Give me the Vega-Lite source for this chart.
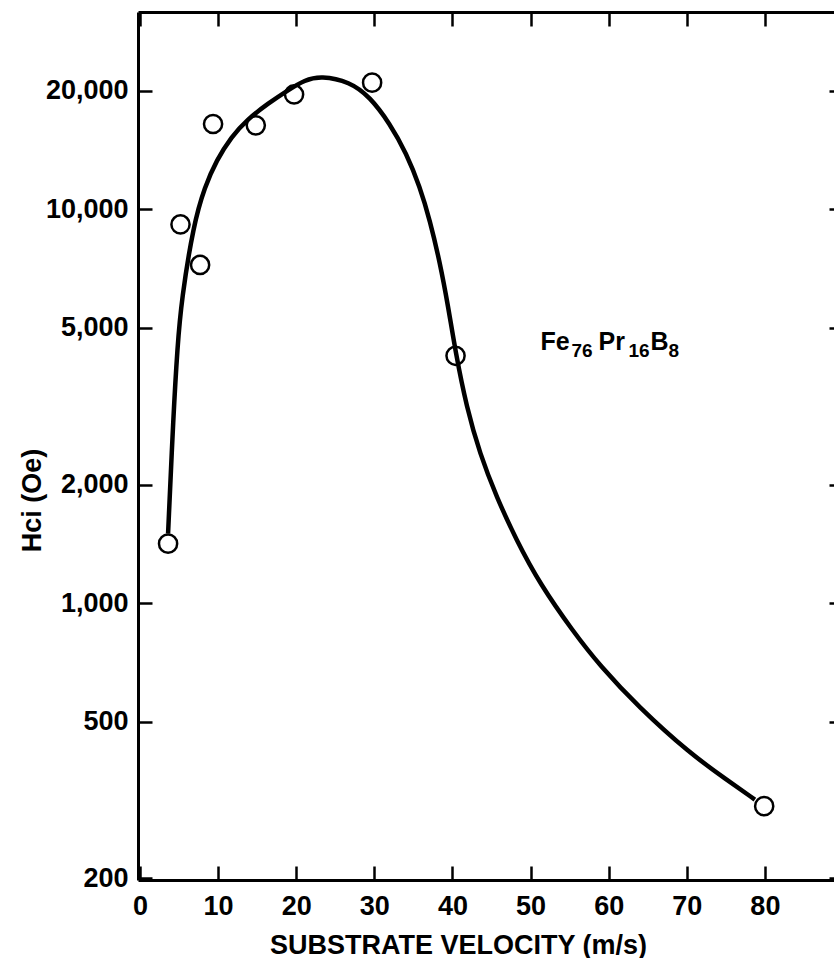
{
  "$schema": "https://vega.github.io/schema/vega-lite/v6.json",
  "width": 705,
  "height": 868,
  "autosize": {"type": "none"},
  "padding": {"left": 138, "top": 12, "right": 0, "bottom": 78},
  "background": "white",
  "config": {
    "view": {"stroke": null},
    "font": "Liberation Sans",
    "axis": {
      "grid": false,
      "domainColor": "black",
      "domainWidth": 3,
      "tickColor": "black",
      "tickWidth": 2.5,
      "tickSize": -14,
      "labelFont": "Liberation Sans",
      "labelFontSize": 27,
      "labelFontWeight": "bold",
      "labelColor": "black",
      "titleFont": "Liberation Sans",
      "titleFontSize": 26,
      "titleFontWeight": "bold",
      "titleColor": "black"
    }
  },
  "datasets": {
    "curve": [
      {"v": 3.60, "h": 1501}, {"v": 4.29, "h": 3030}, {"v": 4.80, "h": 4474},
      {"v": 5.31, "h": 5882}, {"v": 6.86, "h": 9160}, {"v": 8.30, "h": 11415},
      {"v": 9.81, "h": 13345}, {"v": 11.72, "h": 15295}, {"v": 13.64, "h": 16865},
      {"v": 16.41, "h": 18593}, {"v": 18.98, "h": 20108}, {"v": 21.10, "h": 21316},
      {"v": 23.15, "h": 21857}, {"v": 26.86, "h": 21105}, {"v": 29.42, "h": 19328},
      {"v": 31.98, "h": 16543}, {"v": 34.12, "h": 13875}, {"v": 35.83, "h": 11415},
      {"v": 37.11, "h": 9393}, {"v": 38.39, "h": 7346}, {"v": 39.45, "h": 5679},
      {"v": 40.40, "h": 4338}, {"v": 41.81, "h": 3145}, {"v": 43.51, "h": 2398},
      {"v": 45.65, "h": 1859}, {"v": 48.21, "h": 1443}, {"v": 51.19, "h": 1120},
      {"v": 55.45, "h": 847}, {"v": 58.87, "h": 694}, {"v": 63.78, "h": 546},
      {"v": 70.40, "h": 415}, {"v": 75.10, "h": 356}, {"v": 78.72, "h": 317}
    ],
    "points": [
      {"v": 3.60, "h": 1416}, {"v": 5.19, "h": 9160}, {"v": 7.70, "h": 7228},
      {"v": 9.36, "h": 16480}, {"v": 14.83, "h": 16350}, {"v": 19.73, "h": 19590},
      {"v": 29.72, "h": 20990}, {"v": 40.40, "h": 4248}, {"v": 79.91, "h": 305}
    ],
    "label": [
      {"v": 51.28, "h": 4390, "p1": "Fe", "s1": "76", "p2": "Pr", "s2": "16", "p3": "B", "s3": "8"}
    ]
  },
  "resolve": {"axis": {"x": "independent", "y": "independent"}},
  "layer": [
    {
      "data": {"name": "curve"},
      "mark": {"type": "line", "color": "black", "strokeWidth": 4.5, "interpolate": "basis"},
      "encoding": {
        "x": {
          "field": "v", "type": "quantitative",
          "scale": {"domain": [-0.25, 90], "nice": false, "zero": false},
          "axis": {
            "orient": "bottom",
            "values": [0, 10, 20, 30, 40, 50, 60, 70, 80],
            "labelBaseline": "alphabetic",
            "labelPadding": 48,
            "title": "SUBSTRATE VELOCITY (m/s)",
            "titleX": 320,
            "titleY": 73,
            "titleAlign": "center",
            "titleBaseline": "alphabetic",
            "titleFontSize": 27
          }
        },
        "y": {
          "field": "h", "type": "quantitative",
          "scale": {"type": "log", "domain": [198, 31730], "nice": false},
          "axis": {
            "orient": "left",
            "values": [200, 500, 1000, 2000, 5000, 10000, 20000],
            "format": ",",
            "labelPadding": 24,
            "title": "Hci (Oe)",
            "titleAngle": 270,
            "titleX": -98,
            "titleY": 488,
            "titleAlign": "center",
            "titleBaseline": "alphabetic",
            "titleFontSize": 27
          }
        }
      }
    },
    {
      "data": {"name": "points"},
      "mark": {"type": "point", "shape": "circle", "filled": false, "color": "black", "strokeWidth": 2.5, "size": 330, "opacity": 1},
      "encoding": {
        "x": {
          "field": "v", "type": "quantitative",
          "axis": {"orient": "top", "values": [0, 10, 20, 30, 40, 50, 60, 70, 80], "labels": false, "title": null}
        },
        "y": {
          "field": "h", "type": "quantitative",
          "axis": {"orient": "right", "values": [200, 500, 1000, 2000, 5000, 10000, 20000], "labels": false, "title": null}
        }
      }
    },
    {
      "data": {"name": "label"},
      "layer": [
        {"mark": {"type": "text", "align": "left", "baseline": "alphabetic", "fontSize": 25, "fontWeight": "bold", "color": "black"},
         "encoding": {"text": {"field": "p1"}}},
        {"mark": {"type": "text", "align": "left", "baseline": "alphabetic", "fontSize": 19, "fontWeight": "bold", "color": "black", "dx": 31, "dy": 7},
         "encoding": {"text": {"field": "s1"}}},
        {"mark": {"type": "text", "align": "left", "baseline": "alphabetic", "fontSize": 25, "fontWeight": "bold", "color": "black", "dx": 58},
         "encoding": {"text": {"field": "p2"}}},
        {"mark": {"type": "text", "align": "left", "baseline": "alphabetic", "fontSize": 19, "fontWeight": "bold", "color": "black", "dx": 88, "dy": 7},
         "encoding": {"text": {"field": "s2"}}},
        {"mark": {"type": "text", "align": "left", "baseline": "alphabetic", "fontSize": 25, "fontWeight": "bold", "color": "black", "dx": 110},
         "encoding": {"text": {"field": "p3"}}},
        {"mark": {"type": "text", "align": "left", "baseline": "alphabetic", "fontSize": 19, "fontWeight": "bold", "color": "black", "dx": 128, "dy": 7},
         "encoding": {"text": {"field": "s3"}}}
      ],
      "encoding": {
        "x": {"field": "v", "type": "quantitative", "axis": null},
        "y": {"field": "h", "type": "quantitative", "axis": null}
      }
    }
  ]
}
